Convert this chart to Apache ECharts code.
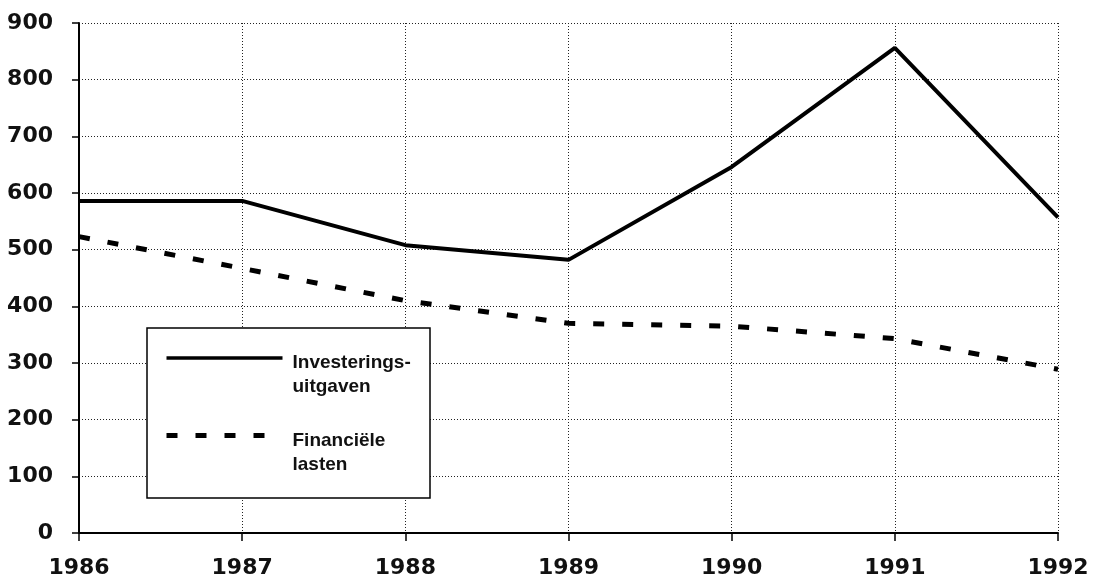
<!DOCTYPE html>
<html>
<head>
<meta charset="utf-8">
<script src="https://cdn.jsdelivr.net/npm/echarts@6/dist/echarts.min.js"></script>
<style>
  html, body { margin: 0; padding: 0; background: #fff; }
  #chart { width: 1096px; height: 585px; }
</style>
</head>
<body>
<div id="chart"></div>
<script>
const years = ['1986', '1987', '1988', '1989', '1990', '1991', '1992']
const investeringen = [586, 586, 508, 482, 646, 856, 557]
const financieleLasten = [523, 467, 410, 370, 365, 343, 289]

const chart = echarts.init(document.getElementById('chart'), null, { renderer: 'canvas' })

const axisFont = { color: '#111', fontSize: 22, fontWeight: 'bold', fontFamily: 'DejaVu Sans' }
const gridLine = { show: true, lineStyle: { color: '#222', width: 1, type: [1, 2] } }

const option = {
  animation: false,
  backgroundColor: '#fff',
  grid: { left: 79, right: 38, top: 23, bottom: 52 },
  xAxis: {
    type: 'category',
    data: years,
    boundaryGap: false,
    axisLine: { lineStyle: { color: '#000', width: 2 } },
    axisTick: { show: true, length: 8, lineStyle: { color: '#000', width: 1.5 } },
    axisLabel: { ...axisFont, margin: 24 },
    splitLine: gridLine,
  },
  yAxis: {
    type: 'value',
    min: 0,
    max: 900,
    interval: 100,
    axisLine: { show: true, lineStyle: { color: '#000', width: 2 } },
    axisTick: { show: true, length: 7, lineStyle: { color: '#000', width: 1.5 } },
    axisLabel: { ...axisFont, margin: 26 },
    splitLine: gridLine,
  },
  legend: {
    orient: 'vertical',
    left: 164,
    top: 329,
    padding: 0,
    itemGap: 10,
    itemWidth: 116,
    itemHeight: 14,
    selectedMode: false,
    itemStyle: { opacity: 0 },
    data: [
      { name: 'Investerings-\nuitgaven', lineStyle: { width: 3.5 } },
      { name: 'Financiële\nlasten', lineStyle: { width: 5 } },
    ],
    // empty first line pushes the two text lines down so the first sits beside the icon
    formatter: name => '{s| }\n' + name.split('\n').map(t => '{a|' + t + '}').join('\n'),
    textStyle: {
      color: '#111',
      padding: [0, 0, 0, 5],
      rich: {
        s: { fontSize: 10, lineHeight: 34 },
        a: { fontSize: 19, fontWeight: 'bold', fontFamily: 'Liberation Sans', lineHeight: 24, color: '#111' },
      },
    },
  },
  graphic: [{
    type: 'rect',
    z: 3,
    shape: { x: 147, y: 328, width: 283, height: 170 },
    style: { fill: '#fff', stroke: '#000', lineWidth: 1.5 },
  }],
  series: [
    {
      name: 'Investerings-\nuitgaven',
      type: 'line',
      data: investeringen,
      symbol: 'none',
      z: 5,
      lineStyle: { color: '#000', width: 4 },
    },
    {
      name: 'Financiële\nlasten',
      type: 'line',
      data: financieleLasten,
      symbol: 'none',
      z: 5,
      lineStyle: { color: '#000', width: 5, type: [11, 18] },
    },
  ],
}

chart.setOption(option)
</script>
</body>
</html>
